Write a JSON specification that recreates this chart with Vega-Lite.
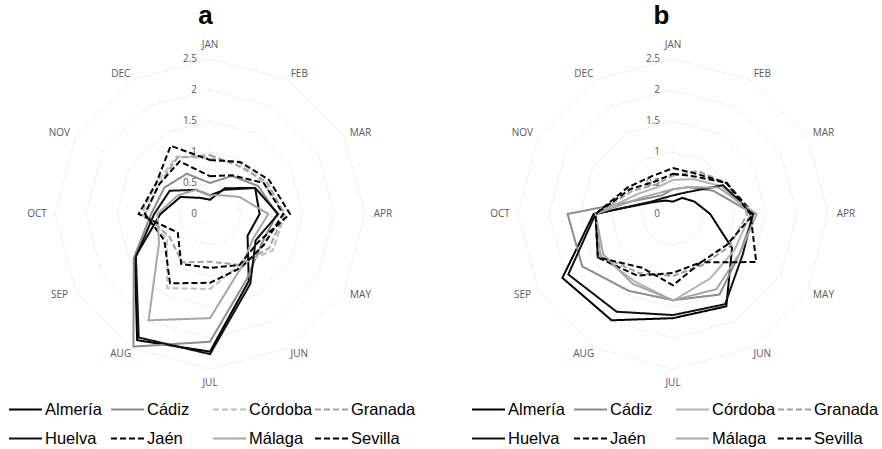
{
  "$schema": "https://vega.github.io/schema/vega-lite/v6.json",
  "padding": {"top": 3, "left": 0, "right": 0, "bottom": 0},
  "background": "white",
  "spacing": 0,
  "config": {"view": {"stroke": null}},
  "datasets": {
    "grid": [
      {"ring": 0.5, "m": [0,1,2,3,4,5,6,7,8,9,10,11]},
      {"ring": 1.0, "m": [0,1,2,3,4,5,6,7,8,9,10,11]},
      {"ring": 1.5, "m": [0,1,2,3,4,5,6,7,8,9,10,11]},
      {"ring": 2.0, "m": [0,1,2,3,4,5,6,7,8,9,10,11]},
      {"ring": 2.5, "m": [0,1,2,3,4,5,6,7,8,9,10,11]}
    ],
    "rings": [
      {"ring": 0, "label": "0"},
      {"ring": 0.5, "label": "0.5"},
      {"ring": 1.0, "label": "1"},
      {"ring": 1.5, "label": "1.5"},
      {"ring": 2.0, "label": "2"},
      {"ring": 2.5, "label": "2.5"}
    ],
    "months": [
      {"m": 0, "mes": "JAN"}, {"m": 1, "mes": "FEB"}, {"m": 2, "mes": "MAR"},
      {"m": 3, "mes": "APR"}, {"m": 4, "mes": "MAY"}, {"m": 5, "mes": "JUN"},
      {"m": 6, "mes": "JUL"}, {"m": 7, "mes": "AUG"}, {"m": 8, "mes": "SEP"},
      {"m": 9, "mes": "OCT"}, {"m": 10, "mes": "NOV"}, {"m": 11, "mes": "DEC"}
    ],
    "series": [
      {"p":"a","prov":"Almería","m":0,"v":0.23},{"p":"a","prov":"Almería","m":1,"v":0.48},{"p":"a","prov":"Almería","m":2,"v":0.84},{"p":"a","prov":"Almería","m":3,"v":0.8},{"p":"a","prov":"Almería","m":4,"v":0.7},{"p":"a","prov":"Almería","m":5,"v":1.25},{"p":"a","prov":"Almería","m":6,"v":2.22},{"p":"a","prov":"Almería","m":7,"v":2.35},{"p":"a","prov":"Almería","m":8,"v":1.4},{"p":"a","prov":"Almería","m":9,"v":0.8},{"p":"a","prov":"Almería","m":10,"v":0.55},{"p":"a","prov":"Almería","m":11,"v":0.3},
      {"p":"a","prov":"Cádiz","m":0,"v":0.5},{"p":"a","prov":"Cádiz","m":1,"v":0.71},{"p":"a","prov":"Cádiz","m":2,"v":0.9},{"p":"a","prov":"Cádiz","m":3,"v":1.08},{"p":"a","prov":"Cádiz","m":4,"v":0.96},{"p":"a","prov":"Cádiz","m":5,"v":1.2},{"p":"a","prov":"Cádiz","m":6,"v":2.06},{"p":"a","prov":"Cádiz","m":7,"v":2.47},{"p":"a","prov":"Cádiz","m":8,"v":1.42},{"p":"a","prov":"Cádiz","m":9,"v":0.95},{"p":"a","prov":"Cádiz","m":10,"v":0.85},{"p":"a","prov":"Cádiz","m":11,"v":0.75},
      {"p":"a","prov":"Córdoba","m":0,"v":0.9},{"p":"a","prov":"Córdoba","m":1,"v":0.95},{"p":"a","prov":"Córdoba","m":2,"v":1.0},{"p":"a","prov":"Córdoba","m":3,"v":1.21},{"p":"a","prov":"Córdoba","m":4,"v":1.17},{"p":"a","prov":"Córdoba","m":5,"v":0.95},{"p":"a","prov":"Córdoba","m":6,"v":1.21},{"p":"a","prov":"Córdoba","m":7,"v":1.38},{"p":"a","prov":"Córdoba","m":8,"v":0.8},{"p":"a","prov":"Córdoba","m":9,"v":1.1},{"p":"a","prov":"Córdoba","m":10,"v":1.0},{"p":"a","prov":"Córdoba","m":11,"v":1.07},
      {"p":"a","prov":"Granada","m":0,"v":0.95},{"p":"a","prov":"Granada","m":1,"v":0.9},{"p":"a","prov":"Granada","m":2,"v":1.05},{"p":"a","prov":"Granada","m":3,"v":1.2},{"p":"a","prov":"Granada","m":4,"v":1.1},{"p":"a","prov":"Granada","m":5,"v":0.95},{"p":"a","prov":"Granada","m":6,"v":0.77},{"p":"a","prov":"Granada","m":7,"v":0.9},{"p":"a","prov":"Granada","m":8,"v":0.75},{"p":"a","prov":"Granada","m":9,"v":1.05},{"p":"a","prov":"Granada","m":10,"v":0.95},{"p":"a","prov":"Granada","m":11,"v":1.05},
      {"p":"a","prov":"Huelva","m":0,"v":0.3},{"p":"a","prov":"Huelva","m":1,"v":0.45},{"p":"a","prov":"Huelva","m":2,"v":0.84},{"p":"a","prov":"Huelva","m":3,"v":1.1},{"p":"a","prov":"Huelva","m":4,"v":0.85},{"p":"a","prov":"Huelva","m":5,"v":1.3},{"p":"a","prov":"Huelva","m":6,"v":2.26},{"p":"a","prov":"Huelva","m":7,"v":2.3},{"p":"a","prov":"Huelva","m":8,"v":1.38},{"p":"a","prov":"Huelva","m":9,"v":0.9},{"p":"a","prov":"Huelva","m":10,"v":0.75},{"p":"a","prov":"Huelva","m":11,"v":0.45},
      {"p":"a","prov":"Jaén","m":0,"v":0.61},{"p":"a","prov":"Jaén","m":1,"v":0.72},{"p":"a","prov":"Jaén","m":2,"v":1.0},{"p":"a","prov":"Jaén","m":3,"v":1.18},{"p":"a","prov":"Jaén","m":4,"v":1.0},{"p":"a","prov":"Jaén","m":5,"v":1.0},{"p":"a","prov":"Jaén","m":6,"v":1.11},{"p":"a","prov":"Jaén","m":7,"v":1.29},{"p":"a","prov":"Jaén","m":8,"v":0.85},{"p":"a","prov":"Jaén","m":9,"v":1.05},{"p":"a","prov":"Jaén","m":10,"v":0.95},{"p":"a","prov":"Jaén","m":11,"v":0.98},
      {"p":"a","prov":"Málaga","m":0,"v":0.3},{"p":"a","prov":"Málaga","m":1,"v":0.35},{"p":"a","prov":"Málaga","m":2,"v":0.55},{"p":"a","prov":"Málaga","m":3,"v":0.94},{"p":"a","prov":"Málaga","m":4,"v":0.8},{"p":"a","prov":"Málaga","m":5,"v":1.0},{"p":"a","prov":"Málaga","m":6,"v":1.68},{"p":"a","prov":"Málaga","m":7,"v":1.98},{"p":"a","prov":"Málaga","m":8,"v":0.95},{"p":"a","prov":"Málaga","m":9,"v":0.85},{"p":"a","prov":"Málaga","m":10,"v":0.6},{"p":"a","prov":"Málaga","m":11,"v":0.45},
      {"p":"a","prov":"Sevilla","m":0,"v":0.87},{"p":"a","prov":"Sevilla","m":1,"v":0.97},{"p":"a","prov":"Sevilla","m":2,"v":1.1},{"p":"a","prov":"Sevilla","m":3,"v":1.29},{"p":"a","prov":"Sevilla","m":4,"v":0.9},{"p":"a","prov":"Sevilla","m":5,"v":0.95},{"p":"a","prov":"Sevilla","m":6,"v":0.87},{"p":"a","prov":"Sevilla","m":7,"v":0.93},{"p":"a","prov":"Sevilla","m":8,"v":0.6},{"p":"a","prov":"Sevilla","m":9,"v":1.15},{"p":"a","prov":"Sevilla","m":10,"v":1.0},{"p":"a","prov":"Sevilla","m":11,"v":1.27},
      {"p":"b","prov":"Almería","m":0,"v":0.2},{"p":"b","prov":"Almería","m":1,"v":0.3},{"p":"b","prov":"Almería","m":2,"v":0.4},{"p":"b","prov":"Almería","m":3,"v":0.6},{"p":"b","prov":"Almería","m":4,"v":1.1},{"p":"b","prov":"Almería","m":5,"v":1.72},{"p":"b","prov":"Almería","m":6,"v":1.68},{"p":"b","prov":"Almería","m":7,"v":1.98},{"p":"b","prov":"Almería","m":8,"v":2.06},{"p":"b","prov":"Almería","m":9,"v":1.28},{"p":"b","prov":"Almería","m":10,"v":0.38},{"p":"b","prov":"Almería","m":11,"v":0.25},
      {"p":"b","prov":"Cádiz","m":0,"v":0.4},{"p":"b","prov":"Cádiz","m":1,"v":0.5},{"p":"b","prov":"Cádiz","m":2,"v":0.75},{"p":"b","prov":"Cádiz","m":3,"v":1.3},{"p":"b","prov":"Cádiz","m":4,"v":1.25},{"p":"b","prov":"Cádiz","m":5,"v":1.5},{"p":"b","prov":"Cádiz","m":6,"v":1.39},{"p":"b","prov":"Cádiz","m":7,"v":1.43},{"p":"b","prov":"Cádiz","m":8,"v":1.69},{"p":"b","prov":"Cádiz","m":9,"v":1.7},{"p":"b","prov":"Cádiz","m":10,"v":0.5},{"p":"b","prov":"Cádiz","m":11,"v":0.35},
      {"p":"b","prov":"Córdoba","m":0,"v":0.55},{"p":"b","prov":"Córdoba","m":1,"v":0.65},{"p":"b","prov":"Córdoba","m":2,"v":0.9},{"p":"b","prov":"Córdoba","m":3,"v":1.25},{"p":"b","prov":"Córdoba","m":4,"v":1.15},{"p":"b","prov":"Córdoba","m":5,"v":1.2},{"p":"b","prov":"Córdoba","m":6,"v":1.4},{"p":"b","prov":"Córdoba","m":7,"v":1.25},{"p":"b","prov":"Córdoba","m":8,"v":1.35},{"p":"b","prov":"Córdoba","m":9,"v":1.25},{"p":"b","prov":"Córdoba","m":10,"v":0.65},{"p":"b","prov":"Córdoba","m":11,"v":0.5},
      {"p":"b","prov":"Granada","m":0,"v":0.62},{"p":"b","prov":"Granada","m":1,"v":0.8},{"p":"b","prov":"Granada","m":2,"v":1.0},{"p":"b","prov":"Granada","m":3,"v":1.2},{"p":"b","prov":"Granada","m":4,"v":1.05},{"p":"b","prov":"Granada","m":5,"v":0.95},{"p":"b","prov":"Granada","m":6,"v":1.0},{"p":"b","prov":"Granada","m":7,"v":1.1},{"p":"b","prov":"Granada","m":8,"v":1.35},{"p":"b","prov":"Granada","m":9,"v":1.25},{"p":"b","prov":"Granada","m":10,"v":0.75},{"p":"b","prov":"Granada","m":11,"v":0.55},
      {"p":"b","prov":"Huelva","m":0,"v":0.3},{"p":"b","prov":"Huelva","m":1,"v":0.4},{"p":"b","prov":"Huelva","m":2,"v":0.93},{"p":"b","prov":"Huelva","m":3,"v":1.29},{"p":"b","prov":"Huelva","m":4,"v":1.3},{"p":"b","prov":"Huelva","m":5,"v":1.68},{"p":"b","prov":"Huelva","m":6,"v":1.63},{"p":"b","prov":"Huelva","m":7,"v":1.82},{"p":"b","prov":"Huelva","m":8,"v":1.95},{"p":"b","prov":"Huelva","m":9,"v":1.25},{"p":"b","prov":"Huelva","m":10,"v":0.4},{"p":"b","prov":"Huelva","m":11,"v":0.3},
      {"p":"b","prov":"Jaén","m":0,"v":0.65},{"p":"b","prov":"Jaén","m":1,"v":0.7},{"p":"b","prov":"Jaén","m":2,"v":1.0},{"p":"b","prov":"Jaén","m":3,"v":1.3},{"p":"b","prov":"Jaén","m":4,"v":1.0},{"p":"b","prov":"Jaén","m":5,"v":0.9},{"p":"b","prov":"Jaén","m":6,"v":0.95},{"p":"b","prov":"Jaén","m":7,"v":1.15},{"p":"b","prov":"Jaén","m":8,"v":1.4},{"p":"b","prov":"Jaén","m":9,"v":1.25},{"p":"b","prov":"Jaén","m":10,"v":0.8},{"p":"b","prov":"Jaén","m":11,"v":0.6},
      {"p":"b","prov":"Málaga","m":0,"v":0.4},{"p":"b","prov":"Málaga","m":1,"v":0.5},{"p":"b","prov":"Málaga","m":2,"v":0.85},{"p":"b","prov":"Málaga","m":3,"v":1.35},{"p":"b","prov":"Málaga","m":4,"v":1.25},{"p":"b","prov":"Málaga","m":5,"v":1.4},{"p":"b","prov":"Málaga","m":6,"v":1.39},{"p":"b","prov":"Málaga","m":7,"v":1.3},{"p":"b","prov":"Málaga","m":8,"v":1.3},{"p":"b","prov":"Málaga","m":9,"v":1.25},{"p":"b","prov":"Málaga","m":10,"v":0.55},{"p":"b","prov":"Málaga","m":11,"v":0.4},
      {"p":"b","prov":"Sevilla","m":0,"v":0.74},{"p":"b","prov":"Sevilla","m":1,"v":0.75},{"p":"b","prov":"Sevilla","m":2,"v":1.0},{"p":"b","prov":"Sevilla","m":3,"v":1.25},{"p":"b","prov":"Sevilla","m":4,"v":1.55},{"p":"b","prov":"Sevilla","m":5,"v":0.9},{"p":"b","prov":"Sevilla","m":6,"v":1.15},{"p":"b","prov":"Sevilla","m":7,"v":1.0},{"p":"b","prov":"Sevilla","m":8,"v":1.4},{"p":"b","prov":"Sevilla","m":9,"v":1.25},{"p":"b","prov":"Sevilla","m":10,"v":0.85},{"p":"b","prov":"Sevilla","m":11,"v":0.7}
    ]
  },
  "resolve": {
    "scale": {"x": "independent", "y": "independent", "color": "independent", "strokeDash": "independent"},
    "legend": {"color": "independent", "strokeDash": "independent"}
  },
  "hconcat": [
    {
      "width": 441,
      "height": 419,
      "title": {"text": "a", "font": "Liberation Sans", "fontSize": 26, "fontWeight": "bold", "color": "#000000", "anchor": "middle", "frame": "group", "dx": -15, "offset": 1},
      "encoding": {
        "x": {"field": "x", "type": "quantitative", "axis": null, "scale": {"domain": [-3.3871, 3.7258], "nice": false, "zero": false}},
        "y": {"field": "y", "type": "quantitative", "axis": null, "scale": {"domain": [-3.7903, 2.9677], "nice": false, "zero": false}}
      },
      "layer": [
        {
          "data": {"name": "grid"},
          "transform": [
            {"flatten": ["m"]},
            {"calculate": "datum.ring * sin(datum.m * PI / 6)", "as": "x"},
            {"calculate": "datum.ring * cos(datum.m * PI / 6)", "as": "y"}
          ],
          "mark": {"type": "line", "interpolate": "linear-closed", "color": "#d4d4d4", "strokeWidth": 1, "strokeDash": [1, 2]},
          "encoding": {"detail": {"field": "ring"}, "order": {"field": "m", "type": "quantitative"}}
        },
        {
          "data": {"name": "rings"},
          "transform": [
            {"calculate": "0", "as": "x"},
            {"calculate": "datum.ring", "as": "y"}
          ],
          "mark": {"type": "text", "align": "right", "baseline": "middle", "dx": -13, "font": "Open Sans", "fontSize": 10, "color": "#595959"},
          "encoding": {"text": {"field": "label"}}
        },
        {
          "data": {"name": "months"},
          "transform": [
            {"calculate": "datum.m * PI / 6", "as": "ang"},
            {"calculate": "2.7 * sin(datum.ang) + (abs(sin(datum.ang)) > 0.01 ? (sin(datum.ang) > 0 ? 0.09 : -0.09) : 0)", "as": "x"},
            {"calculate": "2.6 * cos(datum.ang) + (abs(cos(datum.ang)) > 0.99 ? (cos(datum.ang) > 0 ? 0.13 : -0.13) : 0)", "as": "y"}
          ],
          "mark": {"type": "text", "align": "center", "baseline": "middle", "font": "Open Sans", "fontSize": 10, "color": "#595959"},
          "encoding": {"text": {"field": "mes"}}
        },
        {
          "data": {"name": "series"},
          "transform": [
            {"filter": "datum.p === 'a'"},
            {"calculate": "datum.v * sin(datum.m * PI / 6)", "as": "x"},
            {"calculate": "datum.v * cos(datum.m * PI / 6)", "as": "y"}
          ],
          "mark": {"type": "line", "interpolate": "linear-closed", "strokeWidth": 2},
          "encoding": {
            "color": {
              "field": "prov", "type": "nominal",
              "scale": {"domain": ["Almería", "Cádiz", "Córdoba", "Granada", "Huelva", "Jaén", "Málaga", "Sevilla"],
                        "range": ["#000000", "#8c8c8c", "#bfbfbf", "#a0a0a0", "#111111", "#000000", "#a6a6a6", "#000000"]},
              "legend": {"orient": "none", "direction": "horizontal", "legendX": 8, "legendY": 362, "columns": 4, "title": null, "gridAlign": "all", "columnPadding": -3, "rowPadding": 3, "symbolType": "stroke", "symbolSize": 1089, "symbolStrokeWidth": 2, "labelFont": "Liberation Sans", "labelFontSize": 16.5, "labelColor": "#000000", "labelOffset": 2}
            },
            "strokeDash": {
              "field": "prov", "type": "nominal",
              "scale": {"domain": ["Almería", "Cádiz", "Córdoba", "Granada", "Huelva", "Jaén", "Málaga", "Sevilla"],
                        "range": [[1, 0], [1, 0], [6, 3], [6, 3], [1, 0], [6, 3], [1, 0], [6, 3]]},
              "legend": {"orient": "none", "direction": "horizontal", "legendX": 8, "legendY": 362, "columns": 4, "title": null, "gridAlign": "all", "columnPadding": -3, "rowPadding": 3, "symbolType": "stroke", "symbolSize": 1089, "symbolStrokeWidth": 2, "labelFont": "Liberation Sans", "labelFontSize": 16.5, "labelColor": "#000000", "labelOffset": 2}
            },
            "order": {"field": "m", "type": "quantitative"}
          }
        }
      ]
    },
    {
      "width": 441,
      "height": 419,
      "title": {"text": "b", "font": "Liberation Sans", "fontSize": 26, "fontWeight": "bold", "color": "#000000", "anchor": "middle", "frame": "group", "dx": 0, "offset": 1},
      "encoding": {
        "x": {"field": "x", "type": "quantitative", "axis": null, "scale": {"domain": [-3.7419, 3.371], "nice": false, "zero": false}},
        "y": {"field": "y", "type": "quantitative", "axis": null, "scale": {"domain": [-3.7903, 2.9677], "nice": false, "zero": false}}
      },
      "layer": [
        {
          "data": {"name": "grid"},
          "transform": [
            {"flatten": ["m"]},
            {"calculate": "datum.ring * sin(datum.m * PI / 6)", "as": "x"},
            {"calculate": "datum.ring * cos(datum.m * PI / 6)", "as": "y"}
          ],
          "mark": {"type": "line", "interpolate": "linear-closed", "color": "#d4d4d4", "strokeWidth": 1, "strokeDash": [1, 2]},
          "encoding": {"detail": {"field": "ring"}, "order": {"field": "m", "type": "quantitative"}}
        },
        {
          "data": {"name": "rings"},
          "transform": [
            {"calculate": "0", "as": "x"},
            {"calculate": "datum.ring", "as": "y"}
          ],
          "mark": {"type": "text", "align": "right", "baseline": "middle", "dx": -13, "font": "Open Sans", "fontSize": 10, "color": "#595959"},
          "encoding": {"text": {"field": "label"}}
        },
        {
          "data": {"name": "months"},
          "transform": [
            {"calculate": "datum.m * PI / 6", "as": "ang"},
            {"calculate": "2.7 * sin(datum.ang) + (abs(sin(datum.ang)) > 0.01 ? (sin(datum.ang) > 0 ? 0.09 : -0.09) : 0)", "as": "x"},
            {"calculate": "2.6 * cos(datum.ang) + (abs(cos(datum.ang)) > 0.99 ? (cos(datum.ang) > 0 ? 0.13 : -0.13) : 0)", "as": "y"}
          ],
          "mark": {"type": "text", "align": "center", "baseline": "middle", "font": "Open Sans", "fontSize": 10, "color": "#595959"},
          "encoding": {"text": {"field": "mes"}}
        },
        {
          "data": {"name": "series"},
          "transform": [
            {"filter": "datum.p === 'b'"},
            {"calculate": "datum.v * sin(datum.m * PI / 6)", "as": "x"},
            {"calculate": "datum.v * cos(datum.m * PI / 6)", "as": "y"}
          ],
          "mark": {"type": "line", "interpolate": "linear-closed", "strokeWidth": 2},
          "encoding": {
            "color": {
              "field": "prov", "type": "nominal",
              "scale": {"domain": ["Almería", "Cádiz", "Córdoba", "Granada", "Huelva", "Jaén", "Málaga", "Sevilla"],
                        "range": ["#000000", "#8c8c8c", "#b4b4b4", "#a0a0a0", "#111111", "#000000", "#a6a6a6", "#000000"]},
              "legend": {"orient": "none", "direction": "horizontal", "legendX": 30, "legendY": 362, "columns": 4, "title": null, "gridAlign": "all", "columnPadding": -3, "rowPadding": 3, "symbolType": "stroke", "symbolSize": 1089, "symbolStrokeWidth": 2, "labelFont": "Liberation Sans", "labelFontSize": 16.5, "labelColor": "#000000", "labelOffset": 2}
            },
            "strokeDash": {
              "field": "prov", "type": "nominal",
              "scale": {"domain": ["Almería", "Cádiz", "Córdoba", "Granada", "Huelva", "Jaén", "Málaga", "Sevilla"],
                        "range": [[1, 0], [1, 0], [1, 0], [6, 3], [1, 0], [6, 3], [1, 0], [6, 3]]},
              "legend": {"orient": "none", "direction": "horizontal", "legendX": 30, "legendY": 362, "columns": 4, "title": null, "gridAlign": "all", "columnPadding": -3, "rowPadding": 3, "symbolType": "stroke", "symbolSize": 1089, "symbolStrokeWidth": 2, "labelFont": "Liberation Sans", "labelFontSize": 16.5, "labelColor": "#000000", "labelOffset": 2}
            },
            "order": {"field": "m", "type": "quantitative"}
          }
        }
      ]
    }
  ]
}
